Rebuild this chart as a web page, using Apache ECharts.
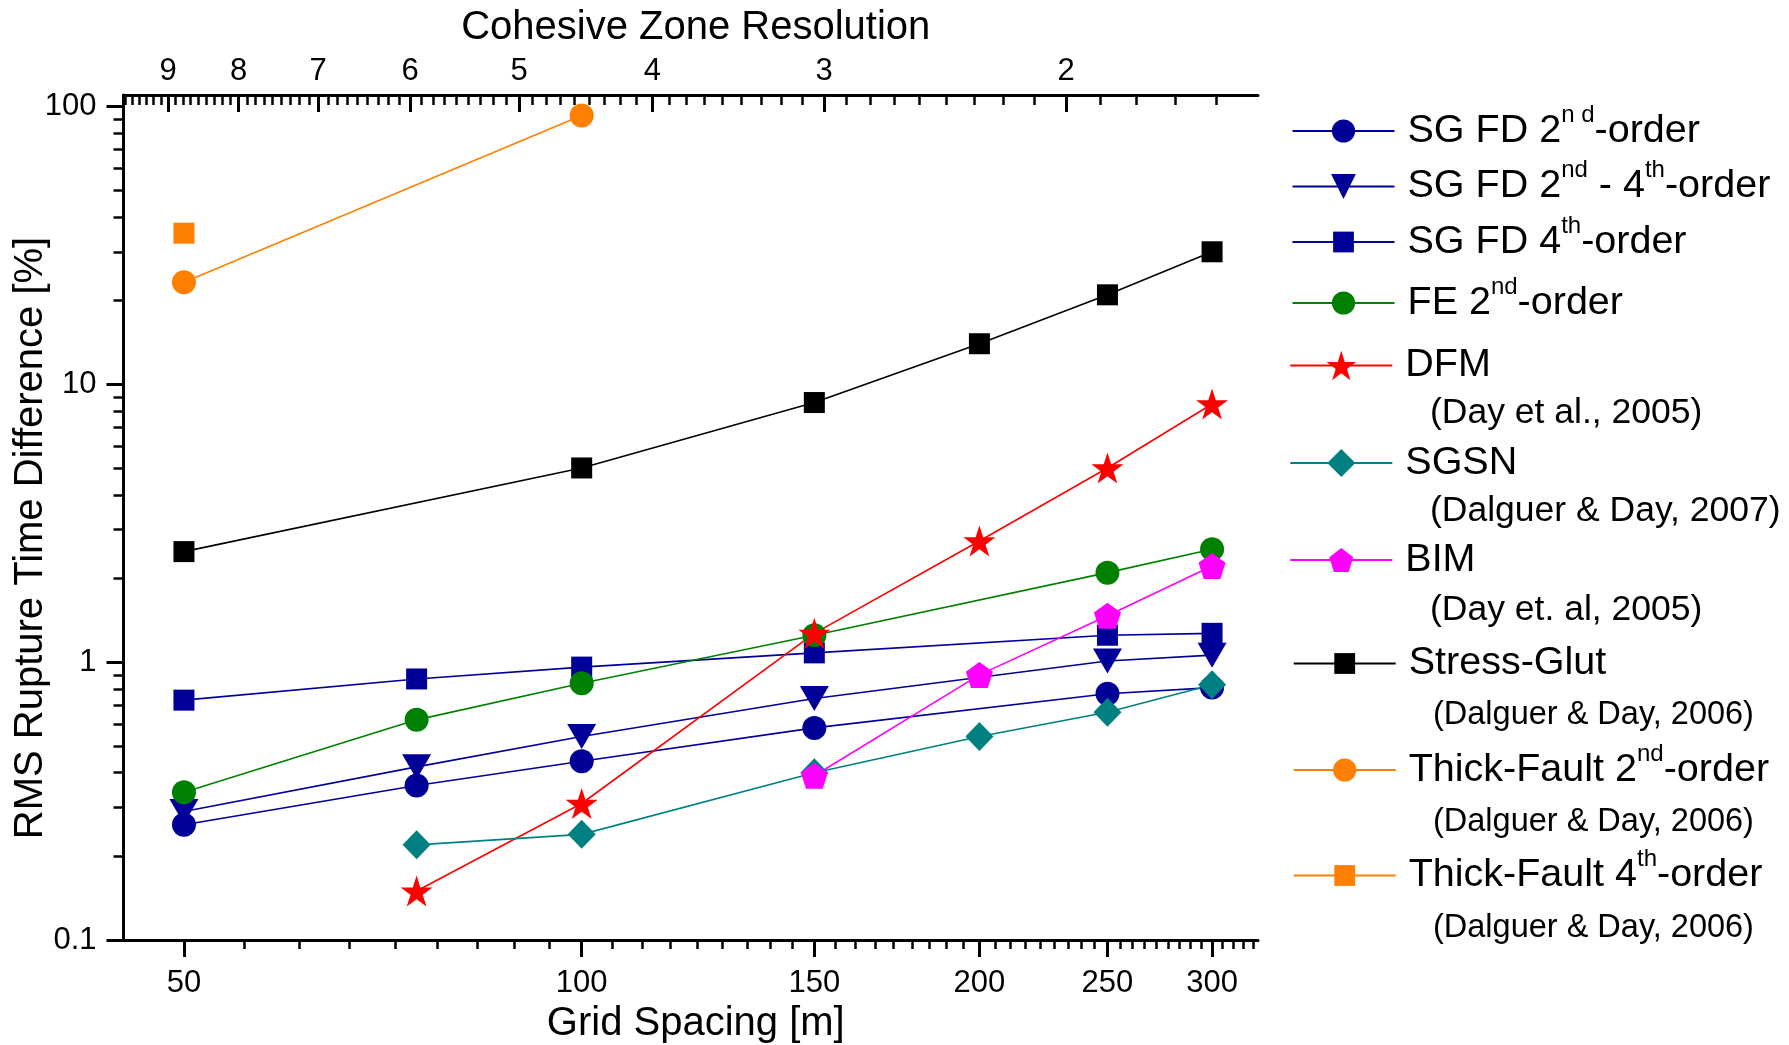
<!DOCTYPE html>
<html>
<head>
<meta charset="utf-8">
<script src="https://cdn.jsdelivr.net/npm/echarts@6/dist/echarts.min.js"></script>
<style>
  html, body { margin: 0; padding: 0; background: #ffffff; }
  #chart { width: 1789px; height: 1045px; }
</style>
</head>
<body>
<div id="chart"></div>
<script>
// Axis tick labels
const gridSpacingTicks = [50, 100, 150, 200, 250, 300];
const resolutionTicks = [2, 3, 4, 5, 6, 7, 8, 9];
const errorTicks = [0.1, 1, 10, 100];

// RMS rupture time difference [%] versus grid spacing [m]
const sgfd2X = [50, 75, 100, 150, 250, 300];
const sgfd2Y = [0.26, 0.36, 0.44, 0.58, 0.77, 0.81];

const sgfd24X = [50, 75, 100, 150, 250, 300];
const sgfd24Y = [0.29, 0.42, 0.54, 0.74, 1.01, 1.06];

const sgfd4X = [50, 75, 100, 150, 250, 300];
const sgfd4Y = [0.73, 0.87, 0.96, 1.08, 1.25, 1.27];

const fe2X = [50, 75, 100, 150, 250, 300];
const fe2Y = [0.34, 0.62, 0.84, 1.25, 2.1, 2.55];

const dfmX = [75, 100, 150, 200, 250, 300];
const dfmY = [0.15, 0.31, 1.27, 2.73, 5.0, 8.5];

const sgsnX = [75, 100, 150, 200, 250, 300];
const sgsnY = [0.22, 0.24, 0.40, 0.54, 0.66, 0.83];

const bimX = [150, 200, 250, 300];
const bimY = [0.39, 0.90, 1.47, 2.22];

const glutX = [50, 100, 150, 200, 250, 300];
const glutY = [2.5, 5.0, 8.6, 14.0, 21.0, 30.0];

const tf2X = [50, 100];
const tf2Y = [23.3, 92.8];

const tf4X = [50];
const tf4Y = [35.0];

// ---------------------------------------------------------------
const FONT = '"Liberation Sans", Arial, Helvetica, sans-serif';
const pairs = (xs, ys) => xs.map((x, i) => [x, ys[i]]);

// minor tick positions: eight minor ticks per major interval
const gridMinor = [];
for (let m = 0; m < 7; m++) {
  for (let j = 1; j <= 8; j++) {
    const v = 50 * (m + 1) + j * 50 / 9;
    if (v < 325) gridMinor.push(+v.toFixed(4));
  }
}
const resMinor = [];
for (let n = 1; n <= 9; n++) {
  for (let j = 1; j <= 8; j++) {
    const v = n + j / 9;
    if (v > 1.45 && v < 9.7) resMinor.push(+v.toFixed(4));
  }
}
const errMinor = [];
[0.1, 1, 10].forEach(d => {
  for (let j = 2; j <= 9; j++) errMinor.push(+(d * j).toPrecision(6));
});

const STAR = 'path://M50,0L61.23,34.55L97.55,34.55L68.17,55.9L79.39,90.45L50,69.1L20.61,90.45L31.83,55.9L2.45,34.55L38.77,34.55Z';
const PENTAGON = 'path://M50,0L97.55,34.55L79.39,90.45L20.61,90.45L2.45,34.55Z';
const TRI_DOWN = 'path://M0,0L100,0L50,86Z';

const NAVY = '#000099';
const LW = 1.6;

function lineSeries(name, xs, ys, color, symbol, size) {
  return {
    name: name,
    type: 'line',
    data: pairs(xs, ys),
    symbol: symbol,
    symbolSize: size,
    showSymbol: true,
    itemStyle: { color: color, opacity: 1 },
    lineStyle: { color: color, width: LW },
    emphasis: { disabled: true },
    silent: true,
    z: 3
  };
}

const series = [
  lineSeries('SG FD 2nd-order', sgfd2X, sgfd2Y, NAVY, 'circle', 24),
  lineSeries('SG FD 2nd-4th-order', sgfd24X, sgfd24Y, NAVY, TRI_DOWN, [29, 25]),
  lineSeries('SG FD 4th-order', sgfd4X, sgfd4Y, NAVY, 'rect', 21),
  lineSeries('FE 2nd-order', fe2X, fe2Y, '#008000', 'circle', 24),
  lineSeries('DFM', dfmX, dfmY, '#ff0000', STAR, [32, 31]),
  lineSeries('SGSN', sgsnX, sgsnY, '#008080', 'diamond', [28, 29]),
  lineSeries('BIM', bimX, bimY, '#ff00ff', PENTAGON, [27, 26]),
  lineSeries('Stress-Glut', glutX, glutY, '#000000', 'rect', 21),
  lineSeries('Thick-Fault 2nd-order', tf2X, tf2Y, '#ff8000', 'circle', 24),
  lineSeries('Thick-Fault 4th-order', tf4X, tf4Y, '#ff8000', 'rect', 21)
];

// legend entries: name, rich label, icon left, top, icon height
const legendRows = [
  ['SG FD 2nd-order', 'SG FD 2{s|n d}-order', 1291.5, 103, 29],
  ['SG FD 2nd-4th-order', 'SG FD 2{s|nd} - 4{s|th}-order', 1291.5, 158.5, 31],
  ['SG FD 4th-order', 'SG FD 4{s|th}-order', 1291.5, 214, 26],
  ['FE 2nd-order', 'FE 2{s|nd}-order', 1291.5, 275, 29],
  ['DFM', 'DFM', 1289.3, 345.5, 37],
  ['SGSN', 'SGSN', 1289.3, 443, 35],
  ['BIM', 'BIM', 1289.3, 540, 30],
  ['Stress-Glut', 'Stress-Glut', 1292.7, 643.5, 26],
  ['Thick-Fault 2nd-order', 'Thick-Fault 2{s|nd}-order', 1292.7, 742, 29],
  ['Thick-Fault 4th-order', 'Thick-Fault 4{s|th}-order', 1292.7, 847.5, 26]
];

const legends = legendRows.map(r => {
  const lh = Math.min(r[4], 29);
  return {
    data: [r[0]],
    left: r[2],
    top: r[3],
    orient: 'vertical',
    padding: 0,
    itemWidth: 102,
    itemHeight: r[4],
    selectedMode: false,
    formatter: () => r[1],
    textStyle: {
      fontFamily: FONT,
      fontSize: 39.5,
      color: '#000',
      lineHeight: lh,
      padding: [0, 0, 0, 8],
      rich: {
        s: {
          fontFamily: FONT, fontSize: 24, color: '#000',
          lineHeight: lh, verticalAlign: 'middle', padding: [0, 0, 32, 0]
        }
      }
    }
  };
});

// reference lines under some legend entries
const citations = [
  ['(Day et al., 2005)', 1430, 413.3, 35.5],
  ['(Dalguer & Day, 2007)', 1430, 511.7, 35.5],
  ['(Day et. al, 2005)', 1430, 610, 35.5],
  ['(Dalguer & Day, 2006)', 1433, 715, 32.5],
  ['(Dalguer & Day, 2006)', 1433, 821.7, 32.5],
  ['(Dalguer & Day, 2006)', 1433, 928.3, 32.5]
];

const graphics = citations.map(c => ({
  type: 'text',
  x: c[1],
  y: c[2],
  silent: true,
  style: {
    text: c[0],
    fontFamily: FONT,
    fontSize: c[3],
    fill: '#000',
    align: 'left',
    verticalAlign: 'middle'
  }
}));

const axisLine = { show: true, onZero: false, lineStyle: { color: '#000', width: 3 } };
const labelStyle = { fontFamily: FONT, fontSize: 31, color: '#000' };
const nameStyle = { fontFamily: FONT, fontSize: 40, color: '#000' };

const option = {
  animation: false,
  backgroundColor: '#ffffff',
  grid: {
    left: 123.5, right: 531, top: 95, bottom: 105,
    containLabel: false, outerBoundsMode: 'none'
  },
  xAxis: [
    {
      type: 'log', position: 'bottom', min: 45, max: 325,
      axisLine: axisLine,
      axisTick: { show: true, inside: false, length: 17, customValues: gridSpacingTicks,
                  lineStyle: { color: '#000', width: 3 } },
      axisLabel: Object.assign({ show: true, margin: 28, customValues: gridSpacingTicks }, labelStyle),
      splitLine: { show: false }, minorTick: { show: false },
      name: 'Grid Spacing [m]', nameLocation: 'middle', nameGap: 64, nameMoveOverlap: false,
      nameTextStyle: Object.assign({ padding: [0, 0, 0, 10] }, nameStyle)
    },
    {
      type: 'log', position: 'bottom', min: 45, max: 325,
      axisLine: { show: false },
      axisTick: { show: true, inside: false, length: 9, customValues: gridMinor,
                  lineStyle: { color: '#000', width: 2.5 } },
      axisLabel: { show: false }, splitLine: { show: false }
    },
    {
      type: 'log', position: 'top', inverse: true, min: 1.45, max: 9.7,
      axisLine: axisLine,
      axisTick: { show: true, inside: true, length: 17, customValues: resolutionTicks,
                  lineStyle: { color: '#000', width: 3 } },
      axisLabel: Object.assign({ show: true, margin: 8, customValues: resolutionTicks }, labelStyle),
      splitLine: { show: false },
      name: 'Cohesive Zone Resolution', nameLocation: 'middle', nameGap: 47, nameMoveOverlap: false,
      nameTextStyle: Object.assign({ padding: [0, 0, 0, 10] }, nameStyle)
    },
    {
      type: 'log', position: 'top', inverse: true, min: 1.45, max: 9.7,
      axisLine: { show: false },
      axisTick: { show: true, inside: true, length: 10, customValues: resMinor,
                  lineStyle: { color: '#000', width: 2.5 } },
      axisLabel: { show: false }, splitLine: { show: false }
    }
  ],
  yAxis: [
    {
      type: 'log', position: 'left', min: 0.1, max: 110,
      axisLine: axisLine,
      axisTick: { show: true, inside: false, length: 17, customValues: errorTicks,
                  lineStyle: { color: '#000', width: 3 } },
      axisLabel: Object.assign({ show: true, margin: 27, customValues: errorTicks,
                                 formatter: v => String(v) }, labelStyle),
      splitLine: { show: false },
      name: 'RMS Rupture Time Difference [%]', nameLocation: 'middle', nameGap: 73,
      nameRotate: 90, nameMoveOverlap: false,
      nameTextStyle: Object.assign({ padding: [0, 41, 0, 0] }, nameStyle)
    },
    {
      type: 'log', position: 'left', min: 0.1, max: 110,
      axisLine: { show: false },
      axisTick: { show: true, inside: false, length: 10, customValues: errMinor,
                  lineStyle: { color: '#000', width: 2.5 } },
      axisLabel: { show: false }, splitLine: { show: false }
    }
  ],
  legend: legends,
  graphic: graphics,
  series: series
};

const chart = echarts.init(document.getElementById('chart'), null, { renderer: 'canvas' });
chart.setOption(option);
</script>
</body>
</html>
